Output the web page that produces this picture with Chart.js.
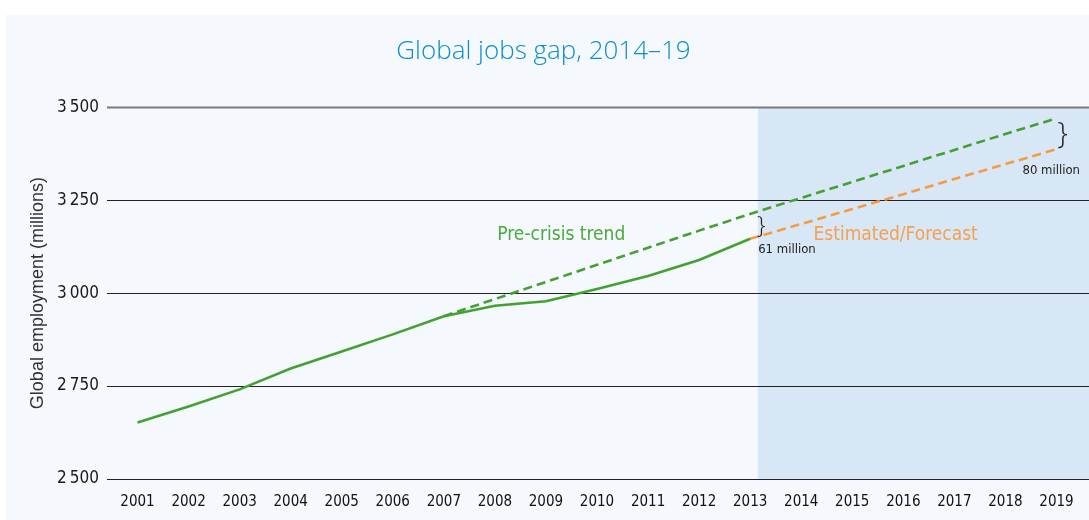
<!DOCTYPE html>
<html>
<head>
<meta charset="utf-8">
<script src="https://cdn.jsdelivr.net/npm/chart.js@4"></script>
<style>
  html, body { margin: 0; padding: 0; background: #fff; }
  #wrap { width: 1089px; height: 520px; position: relative; }
</style>
</head>
<body>
<div id="wrap"><canvas id="jobsGapChart"></canvas></div>
<script>
// Datos (millones de empleos)
const years = ['2001', '2002', '2003', '2004', '2005', '2006', '2007', '2008', '2009', '2010',
               '2011', '2012', '2013', '2014', '2015', '2016', '2017', '2018', '2019'];
const employment = [2652, 2695, 2741, 2797, 2843, 2889, 2938, 2966, 2978, 3011, 3046, 3089, 3146,
                    null, null, null, null, null, null];
const preCrisisTrend = [null, null, null, null, null, null, 2938, 2984, 3030, 3076, 3122, 3168, 3213,
                        3256, 3299, 3342, 3385, 3428, 3470];
const forecast = [null, null, null, null, null, null, null, null, null, null, null, null, 3146,
                  3186, 3226, 3266, 3307, 3347, 3387];
const yTicks = [2500, 2750, 3000, 3250, 3500];
const gapLabels = ['61 million', '80 million'];

const condensed = '"Liberation Sans Narrow", "DejaVu Sans Condensed", sans-serif';

// fondo, sombreado de pronóstico, líneas de cuadrícula y anotaciones
const decorPlugin = {
    id: 'decor',
    beforeDraw(chart) {
        const c = chart.ctx;
        c.save();
        c.fillStyle = '#ffffff';
        c.fillRect(0, 0, chart.width, chart.height);
        c.fillStyle = '#f5f9fd';
        c.fillRect(5, 15, chart.width - 5, chart.height - 15);
        c.restore();
    },
    beforeDatasetsDraw(chart) {
        const c = chart.ctx, x = chart.scales.x, y = chart.scales.y, a = chart.chartArea;
        c.save();
        const shadeLeft = x.getPixelForValue(12.15);
        c.fillStyle = '#d8e7f5';
        c.fillRect(shadeLeft, y.getPixelForValue(3500), chart.width - shadeLeft, y.getPixelForValue(2500) - y.getPixelForValue(3500));
        yTicks.forEach(v => {
            const py = Math.round(y.getPixelForValue(v)) + 0.5;
            c.strokeStyle = v === 3500 ? '#7a7a7a' : '#222';
            c.lineWidth = v === 3500 ? 2 : 1;
            c.beginPath();
            c.moveTo(a.left - 5, py);
            c.lineTo(chart.width, py);
            c.stroke();
        });
        c.restore();
    },
    afterDatasetsDraw(chart) {
        const c = chart.ctx, x = chart.scales.x, y = chart.scales.y;
        c.save();
        c.textBaseline = 'middle';
        c.textAlign = 'center';
        c.font = '19px ' + condensed;
        c.fillStyle = '#4aaa3c';
        c.fillText('Pre-crisis trend', x.getPixelForValue(8.3), y.getPixelForValue(3157));
        c.fillStyle = '#f5a04f';
        c.fillText('Estimated/Forecast', x.getPixelForValue(14.85), y.getPixelForValue(3157));
        // llaves de la brecha
        c.fillStyle = '#222';
        c.font = '13px ' + condensed;
        c.textAlign = 'left';
        c.fillText(gapLabels[0], x.getPixelForValue(12) + 8, y.getPixelForValue(3116));
        c.textAlign = 'right';
        c.fillText(gapLabels[1], chart.width - 9, y.getPixelForValue(3330));
        c.textAlign = 'center';
        c.font = '300 24px "Open Sans", sans-serif';
        c.fillText('}', x.getPixelForValue(12) + 11, y.getPixelForValue(3180));
        c.font = '300 30px "Open Sans", sans-serif';
        c.fillText('}', x.getPixelForValue(18) + 6, y.getPixelForValue(3428));
        c.restore();
    }
};

const ctx = document.getElementById('jobsGapChart').getContext('2d');
const jobsGapChart = new Chart(ctx, {
    type: 'line',
    data: {
        labels: years,
        datasets: [
            {
                label: 'Empleo global',
                data: employment,
                borderColor: '#43a132',
                borderWidth: 2.6,
                pointRadius: 0,
                tension: 0
            },
            {
                label: 'Tendencia pre-crisis',
                data: preCrisisTrend,
                borderColor: '#43a132',
                borderWidth: 2.6,
                borderDash: [9, 5],
                pointRadius: 0,
                tension: 0
            },
            {
                label: 'Estimado/Pronóstico',
                data: forecast,
                borderColor: '#f59a45',
                borderWidth: 2.6,
                borderDash: [9, 5],
                pointRadius: 0,
                tension: 0
            }
        ]
    },
    options: {
        responsive: true,
        maintainAspectRatio: false,
        animation: false,
        layout: { padding: { left: 5, right: 7, top: 0, bottom: 3 } },
        plugins: {
            legend: { display: false },
            tooltip: { enabled: false },
            title: {
                display: true,
                text: 'Global jobs gap, 2014–19',
                color: '#0b8ed0',
                font: { family: '"Open Sans", sans-serif', size: 26, weight: '300' },
                padding: { top: 36, bottom: 40 }
            }
        },
        scales: {
            x: {
                offset: true,
                grid: { display: false },
                border: { display: false },
                ticks: {
                    color: '#111',
                    font: { family: condensed, size: 15 },
                    maxRotation: 0,
                    autoSkip: false,
                    padding: 6
                }
            },
            y: {
                min: 2500,
                max: 3500,
                afterBuildTicks(scale) { scale.ticks = yTicks.map(v => ({ value: v })); },
                afterFit(scale) { scale.width = 107; },
                grid: { display: false },
                border: { display: false },
                ticks: {
                    color: '#1a1a1a',
                    font: { family: condensed, size: 17 },
                    padding: 5,
                    callback: v => String(v).replace(/(\d)(\d{3})$/, '$1\u2009$2')
                },
                title: {
                    display: true,
                    text: 'Global employment (millions)',
                    color: '#333',
                    font: { family: '"Liberation Sans", Arial, sans-serif', size: 18 },
                    padding: { top: 22, bottom: 2 }
                }
            }
        }
    },
    plugins: [decorPlugin]
});
</script>
</body>
</html>
